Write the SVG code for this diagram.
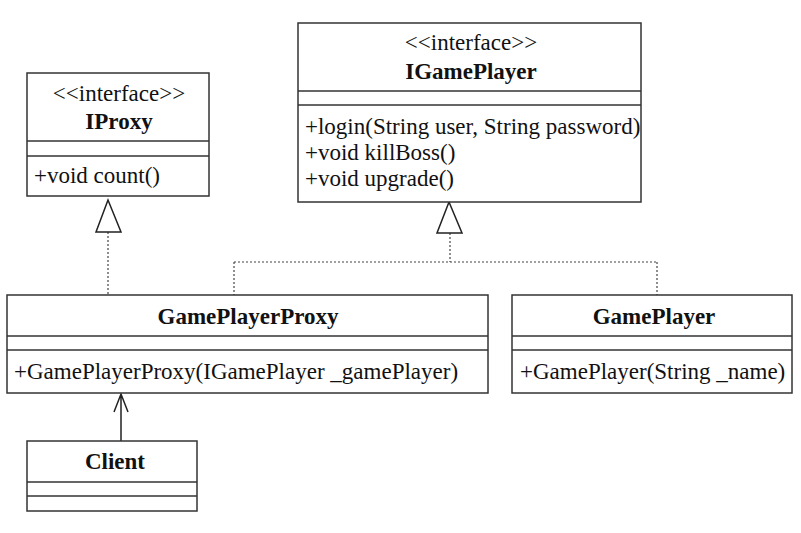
<svg xmlns="http://www.w3.org/2000/svg" width="801" height="533" viewBox="0 0 801 533">
<style>
.box{fill:#fff;stroke:#333;stroke-width:1.5}
.div{stroke:#333;stroke-width:1.5}
text{font-family:"Liberation Serif","Times New Roman",serif;fill:#111;font-size:23px}
.t{font-weight:bold;text-anchor:middle}
.s{text-anchor:middle}
.dot{fill:none;stroke:#444;stroke-width:1.2;stroke-dasharray:2 2}
.sol{fill:none;stroke:#222;stroke-width:1.5}
.tri{fill:#fff;stroke:#222;stroke-width:1.5}
</style>
<rect width="801" height="533" fill="#fff"/>
<g id="connectors">
<path class="dot" d="M108 232 V295"/>
<polygon class="tri" points="108,200 96,232 121,232"/>
<path class="dot" d="M450 233 V262 M234 262 H657 M234 262 V295 M657 262 V295"/>
<polygon class="tri" points="449,202 437,233 462,233"/>
<path class="sol" d="M121 441 V394 M114 412 L121 394 L128 412"/>
</g>
<g id="IProxy">
<rect class="box" x="27" y="73" width="182" height="123"/>
<line class="div" x1="27" y1="141" x2="209" y2="141"/>
<line class="div" x1="27" y1="156" x2="209" y2="156"/>
<text class="s" x="119" y="101">&lt;&lt;interface&gt;&gt;</text>
<text class="t" x="119" y="129">IProxy</text>
<text x="34" y="183">+void count()</text>
</g>
<g id="IGamePlayer">
<rect class="box" x="298" y="23" width="343" height="179"/>
<line class="div" x1="298" y1="91" x2="641" y2="91"/>
<line class="div" x1="298" y1="105" x2="641" y2="105"/>
<text class="s" x="471" y="50">&lt;&lt;interface&gt;&gt;</text>
<text class="t" x="471" y="79">IGamePlayer</text>
<text x="305" y="134">+login(String user, String password)</text>
<text x="305" y="160">+void killBoss()</text>
<text x="305" y="186">+void upgrade()</text>
</g>
<g id="GamePlayerProxy">
<rect class="box" x="7" y="295" width="481" height="98"/>
<line class="div" x1="7" y1="336" x2="488" y2="336"/>
<line class="div" x1="7" y1="350" x2="488" y2="350"/>
<text class="t" x="248" y="324">GamePlayerProxy</text>
<text x="14" y="379">+GamePlayerProxy(IGamePlayer _gamePlayer)</text>
</g>
<g id="GamePlayer">
<rect class="box" x="512" y="295" width="280" height="98"/>
<line class="div" x1="512" y1="336" x2="792" y2="336"/>
<line class="div" x1="512" y1="350" x2="792" y2="350"/>
<text class="t" x="654" y="324">GamePlayer</text>
<text x="520" y="379">+GamePlayer(String _name)</text>
</g>
<g id="Client">
<rect class="box" x="27" y="441" width="170" height="70"/>
<line class="div" x1="27" y1="482" x2="197" y2="482"/>
<line class="div" x1="27" y1="496" x2="197" y2="496"/>
<text class="t" x="115" y="469">Client</text>
</g>
</svg>
